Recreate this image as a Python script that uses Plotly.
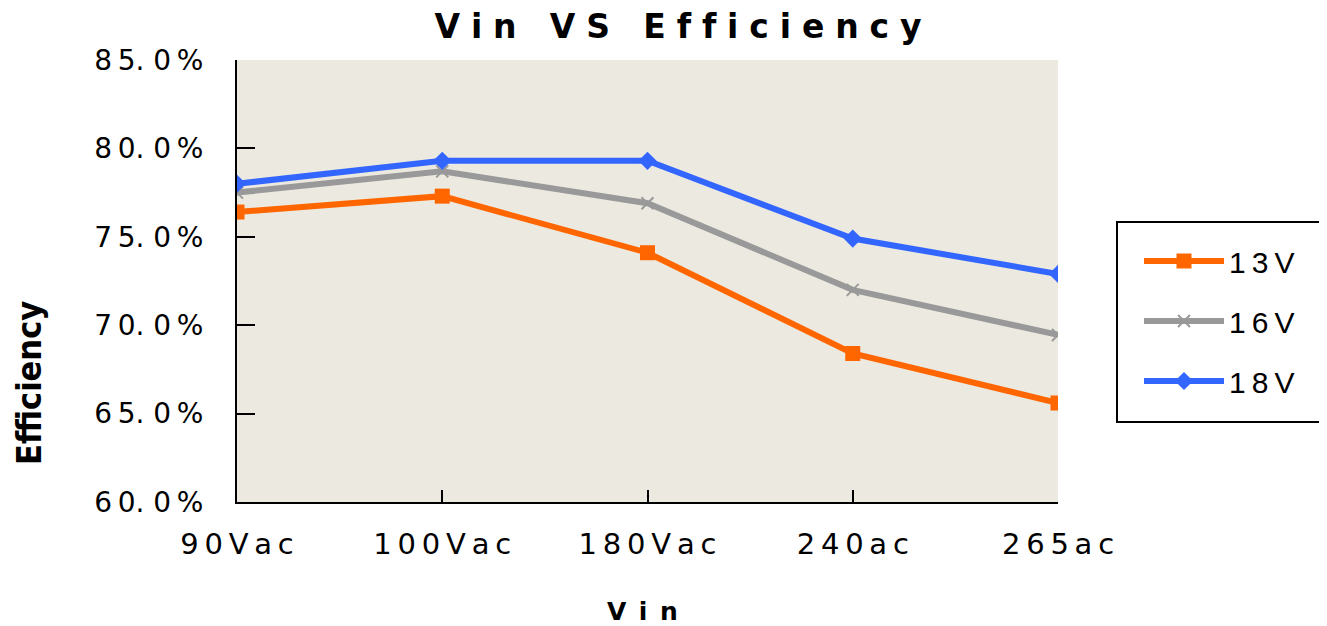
import plotly.graph_objects as go

categories = ["90Vac", "100Vac", "180Vac", "240ac", "265ac"]
v13 = [76.4, 77.3, 74.1, 68.4, 65.6]
v16 = [77.5, 78.7, 76.9, 72.0, 69.45]
v18 = [78.0, 79.3, 79.3, 74.9, 72.9]
y_ticks = [60, 65, 70, 75, 80, 85]
y_ticktext = ["60. 0%", "65. 0%", "70. 0%", "75. 0%", "80. 0%", "85. 0%"]
series_names = ["13V", "16V", "18V"]

G = "\u2004"  # three-per-em space used as letter spacing
TS = "\u2009"  # thin space


def spaced(s, gap):
    return gap.join(list(s))


def ylab(t):
    # "85. 0%" -> 8 5 . 0 % with thin letter spacing, keep the wide gap after '.'
    a, b = t.split(". ")
    return spaced(a, TS) + ".\u00a0" + spaced(b, TS)


# page offset (browser body margin)
OFF = 8
W, H = 1327 - OFF, 626 - OFF
PL, PR, PT, PB = 237 - OFF, 1058 - OFF, 60 - OFF, 502 - OFF
pw, ph = PR - PL, PB - PT


def px(xpage):
    return (xpage - OFF - PL) / pw


def py(ypage):
    return (PB - (ypage - OFF)) / ph


fig = go.Figure()
series = [
    (v13, "#FF6600", dict(symbol="square", size=15)),
    (v16, "#999999", dict(symbol="x-thin", size=12, line=dict(width=2, color="#999999"))),
    (v18, "#3366FF", dict(symbol="diamond", size=14)),
]
for i, (vals, color, mk) in enumerate(series):
    fig.add_trace(go.Scatter(
        x=categories, y=vals, name=spaced(series_names[i], TS), mode="lines+markers",
        line=dict(color=color, width=6),
        marker=dict(color=color, **mk),
        legendgroup=f"g{i}",
    ))

fig.update_layout(
    width=W, height=H,
    margin=dict(l=PL, r=W - PR, t=PT, b=H - PB),
    paper_bgcolor="white",
    plot_bgcolor="#ECE9E0",
    font=dict(family="DejaVu Sans", color="black", size=26),
    showlegend=True,
    legend=dict(
        x=px(1139), y=py(235), xanchor="left", yanchor="top",
        bgcolor="rgba(0,0,0,0)", borderwidth=0,
        font=dict(size=30, family="Liberation Sans"),
        traceorder="grouped", tracegroupgap=18,
        itemwidth=80,
    ),
    title=dict(
        text="<b>" + spaced("Vin VS Efficiency", G) + "</b>",
        x=(678 - OFF) / W, xanchor="center",
        y=1 - (26 - OFF) / H, yanchor="middle",
        font=dict(size=33, family="DejaVu Sans"),
    ),
    shapes=[dict(
        type="rect", xref="paper", yref="paper",
        x0=px(1117), x1=px(1326), y0=py(422), y1=py(222),
        line=dict(color="black", width=2), fillcolor="white", layer="below",
    )],
)

fig.update_xaxes(
    type="category", range=[0, 4],
    tickvals=categories, ticktext=[spaced(c, TS) for c in categories],
    showline=True, linecolor="black", linewidth=2,
    ticks="inside", ticklen=12, tickcolor="black", tickwidth=2,
    showgrid=False, zeroline=False,
    tickfont=dict(size=29, family="DejaVu Sans"),
    ticklabelstandoff=15,
)
fig.update_yaxes(
    range=[60, 85], tickvals=y_ticks,
    ticktext=[ylab(t) for t in y_ticktext],
    showline=True, linecolor="black", linewidth=2,
    ticks="inside", ticklen=18, tickcolor="black", tickwidth=2,
    showgrid=False, zeroline=False,
    tickfont=dict(size=28, family="DejaVu Sans"),
    ticklabelstandoff=26,
)

fig.add_annotation(
    text="<b>V\u2002i\u2002n</b>", xref="paper", yref="paper",
    x=px(642), y=py(611), xanchor="center", yanchor="middle",
    showarrow=False, font=dict(size=25, family="DejaVu Sans"),
)
fig.add_annotation(
    text="<b>Efficiency</b>", xref="paper", yref="paper",
    x=px(29), y=py(383), xanchor="center", yanchor="middle",
    textangle=-90, showarrow=False, font=dict(size=34, family="DejaVu Sans Condensed"),
)

fig.write_html("out.html")
